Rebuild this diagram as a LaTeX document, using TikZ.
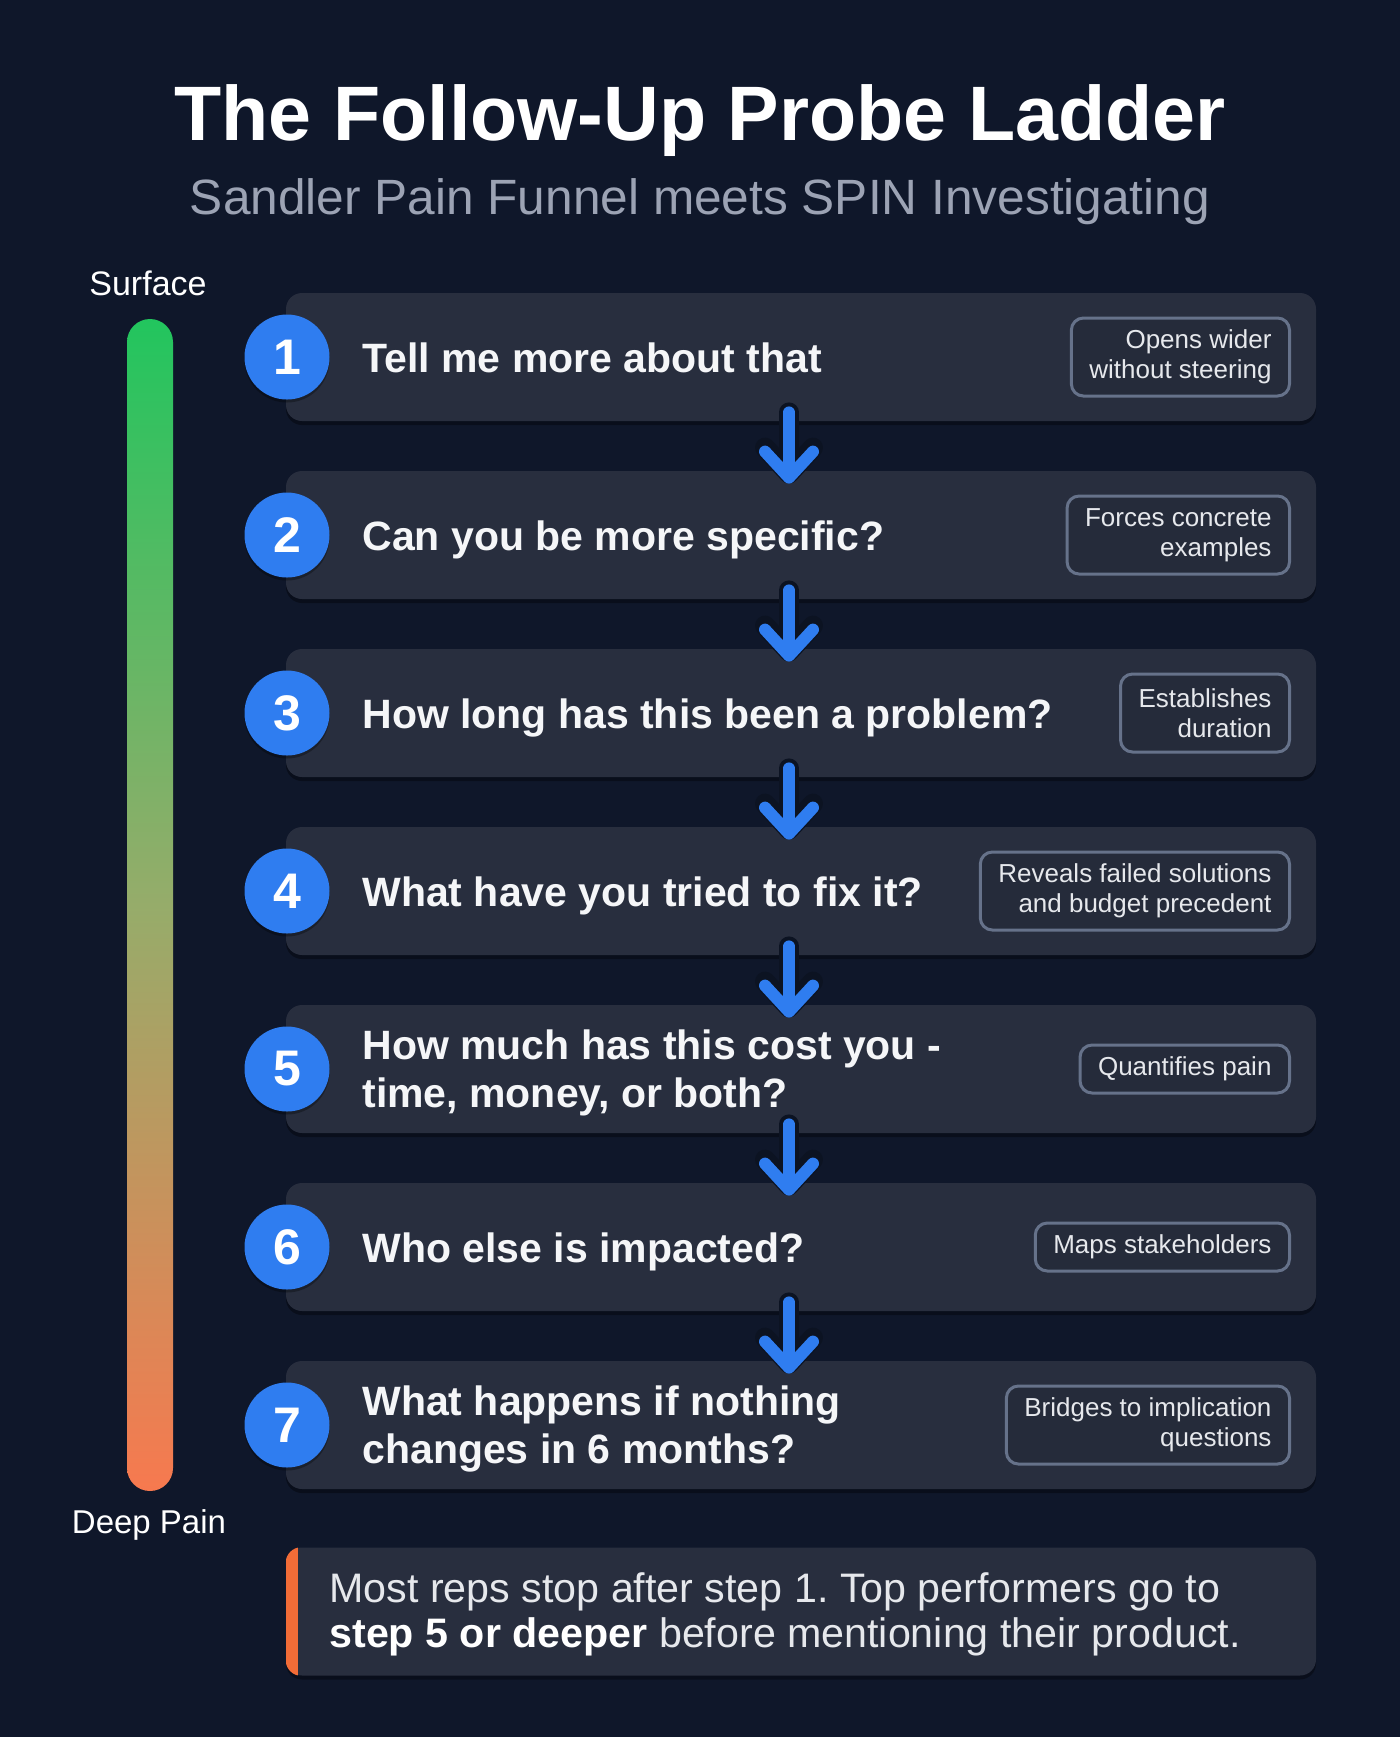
\documentclass[tikz,border=0pt]{standalone}
\usepackage{fontspec}
\setmainfont{Liberation Sans}
\usetikzlibrary{arrows.meta,shadows,calc}
\definecolor{bg}{HTML}{0F172A}
\definecolor{cardc}{HTML}{282E3E}
\definecolor{badgef}{HTML}{252B3A}
\definecolor{badgeb}{HTML}{66728A}
\definecolor{badget}{HTML}{E6E8EC}
\definecolor{blueA}{HTML}{2F7DF0}
\definecolor{qtext}{HTML}{F5F6F8}
\definecolor{subc}{HTML}{9CA3B4}
\definecolor{outl}{HTML}{0C1322}
\definecolor{gtop}{HTML}{22C55E}
\definecolor{gmid}{HTML}{96AC6A}
\definecolor{gbot}{HTML}{F7794F}
\definecolor{strip}{HTML}{F26C37}
\frenchspacing
\begin{document}
\begin{tikzpicture}[x=0.5pt,y=-0.5pt,
  card/.style={fill=cardc, rounded corners=8pt, minimum width=515pt, minimum height=64pt, inner sep=0pt,
    drop shadow={shadow xshift=0pt, shadow yshift=-2pt, opacity=0.35, fill=black}},
  num/.style={circle, fill=blueA, minimum size=42.5pt, inner sep=0pt, text=white,
    font=\fontsize{25}{29}\selectfont\bfseries,
    drop shadow={shadow xshift=0pt, shadow yshift=-1.5pt, opacity=0.3, fill=black}},
  qtxt/.style={anchor=base west, text=qtext, inner sep=0pt, font=\fontsize{20.5}{24}\selectfont\bfseries},
  badge/.style={anchor=east, draw=badgeb, line width=1.5pt, fill=badgef, rounded corners=6pt, align=right,
    inner xsep=9pt, inner ysep=0pt, text=badget, font=\fontsize{13}{15}\selectfont},
  badgetwo/.style={badge, minimum height=39pt},
  badgeone/.style={badge, minimum height=24pt},
  probe/.style={draw=blueA, line width=6pt, line cap=round,
    -{Straight Barb[round, length=13pt, width=24pt]},
    preaction={draw=outl, line width=10pt, line cap=round, -{Straight Barb[round, length=13pt, width=24pt]}}},
  lbl/.style={anchor=base, text=white, inner sep=0pt}
]
\useasboundingbox (0,0) rectangle (1400,1737);
\fill[bg] (0,0) rectangle (1400,1737);

% titles
\node[lbl, font=\fontsize{38.6}{46}\selectfont\bfseries] (title) at (700,140) {The Follow-Up Probe Ladder};
\node[lbl, text=subc, font=\fontsize{24.8}{29}\selectfont] (subtitle) at (700,214) {Sandler Pain Funnel meets SPIN Investigating};

% depth scale
\node[lbl, font=\fontsize{17}{20}\selectfont] (surface) at (148,295) {Surface};
\node[lbl, font=\fontsize{16.5}{20}\selectfont] (deep) at (149,1533) {Deep Pain};
\node[minimum width=23pt, minimum height=586pt, inner sep=0pt, rounded corners=11.5pt,
  top color=gtop, bottom color=gbot, middle color=gmid] (bar) at (150,905) {};

% cards
\foreach \i in {1,...,7}{
  \node[card] (card\i) at (801,{357+178*(\i-1)}) {};
}
\node[card] (foot) at (801,1611.5) {};
\begin{scope}
  \path[clip, rounded corners=8pt] (foot.south west) rectangle (foot.north east);
  \fill[strip] (foot.north west) rectangle ([xshift=6pt]foot.south west);
\end{scope}

% badges
\node[badgetwo] (b1) at (1291,357) {Opens wider\\without steering};
\node[badgetwo] (b2) at (1291,535) {Forces concrete\\examples};
\node[badgetwo] (b3) at (1291,713) {Establishes\\duration};
\node[badgetwo] (b4) at (1291,891) {Reveals failed solutions\\and budget precedent};
\node[badgeone] (b5) at (1291,1069) {Quantifies pain};
\node[badgeone] (b6) at (1291,1247) {Maps stakeholders};
\node[badgetwo] (b7) at (1291,1425) {Bridges to implication\\questions};

% number circles
\foreach \i in {1,...,7}{
  \node[num] (n\i) at (287,{357+178*(\i-1)}) {\i};
}

% questions
\node[qtxt] (q1) at (362,372) {Tell me more about that};
\node[qtxt] (q2) at (362,550) {Can you be more specific?};
\node[qtxt] (q3) at (362,728) {How long has this been a problem?};
\node[qtxt] (q4) at (362,906) {What have you tried to fix it?};
\node[qtxt] (q5) at (362,1059.5) {\begin{tabular}[t]{@{}l@{}}How much has this cost you -\\time, money, or both?\end{tabular}};
\node[qtxt] (q6) at (362,1262) {Who else is impacted?};
\node[qtxt] (q7) at (362,1415.5) {\begin{tabular}[t]{@{}l@{}}What happens if nothing\\changes in 6 months?\end{tabular}};

% footer text
\node[anchor=base west, inner sep=0pt, text=badget, font=\fontsize{20.6}{22.5}\selectfont] (ftext) at (329,1602)
  {\begin{tabular}[t]{@{}l@{}}Most reps stop after step 1. Top performers go to\\{\bfseries\color{white}step 5 or deeper} before mentioning their product.\end{tabular}};

% arrows
\foreach \i [evaluate=\i as \j using int(\i+1)] in {1,...,6}{
  \draw[probe] ([xshift=-6pt,yshift=4.5pt]card\i.south) -- ([xshift=-6pt,yshift=-6.5pt]card\j.north);
}
\end{tikzpicture}
\end{document}
